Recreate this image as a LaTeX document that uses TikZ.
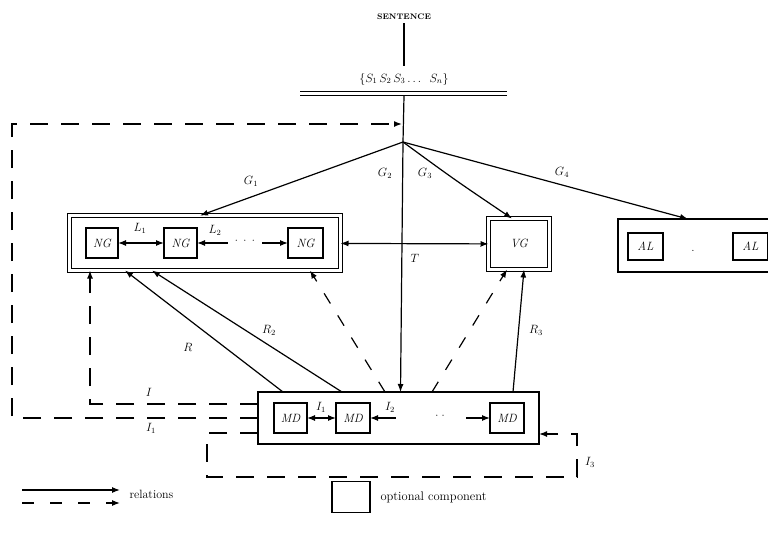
\documentclass[tikz,border=0pt]{standalone}
\usetikzlibrary{arrows.meta}
\begin{document}
\begin{tikzpicture}[x=1pt,y=-1pt,
  >={Latex[length=8pt,width=6pt]},
  ln/.style={line width=1.2pt},
  dsh/.style={line width=1.4pt,dash pattern=on 18pt off 13pt},
  dshs/.style={line width=1.2pt,dash pattern=on 12pt off 14pt},
  bigbox/.style={draw,line width=1pt,double,double distance=3.5pt,inner sep=0pt,outer sep=0pt},
  grp/.style={draw,line width=1.4pt,inner sep=0pt,outer sep=0pt},
  comp/.style={draw,line width=1.5pt,inner sep=0pt,outer sep=0pt,minimum height=30pt,font=\fontsize{12}{13}\selectfont\itshape},
  lab/.style={font=\fontsize{12}{13}\selectfont\itshape,inner sep=1pt}]
\useasboundingbox (0,0) rectangle (768,542);

% top
\node[font=\fontsize{8}{9}\selectfont\bfseries] (sent) at (404,17) {SENTENCE};
\coordinate (v1) at (404,66);
\node[font=\fontsize{12}{13}\selectfont] (set) at (404,79) {$\{S_1\,S_2\,S_3\ldots\;\;S_n\}$};
\coordinate (dl) at (300,93.5);
\coordinate (dr) at (507,93.5);
\coordinate (vtop) at (404,96);
\coordinate (fan) at (403,142);
\coordinate (lp) at (402,124);
\draw[ln] (sent) -- (v1);
\draw[line width=1.1pt,double,double distance=2.5pt] (dl) -- (dr);
\draw[ln] (vtop) -- (fan);

% boxes
\node[bigbox,minimum width=271pt,minimum height=55pt] (lbox) at (205,243) {};
\node[comp,minimum width=32pt] (ng1) at (102,243) {NG};
\node[comp,minimum width=33pt] (ng2) at (180.5,243) {NG};
\node[comp,minimum width=35pt] (ng3) at (305.5,243) {NG};

\node[bigbox,minimum width=61pt,minimum height=51pt] (vbox) at (519,244) {};
\node[font=\fontsize{12}{13}\selectfont\itshape] (vg) at (519,243) {VG};

\node[grp,minimum width=172pt,minimum height=53pt] (albox) at (704,245.5) {};
\node[comp,minimum width=35pt,minimum height=27pt] (al1) at (645.5,246.5) {AL};
\node[comp,minimum width=35pt,minimum height=27pt] (al2) at (750.5,246.5) {AL};
\node[font=\fontsize{12}{13}\selectfont] (aldots) at (693,251) {.};

\node[grp,minimum width=281pt,minimum height=52pt] (mdbox) at (398.5,418) {};
\node[comp,minimum width=33pt] (md1) at (290.5,418) {MD};
\node[comp,minimum width=34pt] (md2) at (353,418) {MD};
\node[comp,minimum width=34pt] (md3) at (507,418) {MD};

% G relations
\draw[ln,->] (fan) -- ([xshift=130.5pt]lbox.north west);
\draw[ln,->] (fan) -- ([xshift=142.5pt]mdbox.north west);
\draw[ln,->] (fan) .. controls (455,180) .. ([xshift=23.5pt]vbox.north west);
\draw[ln,->] (fan) -- ([xshift=70pt]albox.north west);
\node[lab] (g1) at (251,181) {$G_1$};
\node[lab] (g2) at (385,173) {$G_2$};
\node[lab] (g3) at (425,173) {$G_3$};
\node[lab] (g4) at (562,172) {$G_4$};

% NG links
\draw[ln,<->] (ng1) -- (ng2);
\coordinate (n2r) at (228,243);
\coordinate (n3l) at (262,243);
\draw[ln,<-] (ng2) -- (n2r);
\draw[ln,->] (n3l) -- (ng3);
\node[font=\fontsize{11}{12}\selectfont] (ngdots) at (245,241) {$\cdot\;\cdot\;\cdot$};
\node[lab] (l1) at (140,228) {$L_1$};
\node[lab] (l2) at (215,230) {$L_2$};

% T
\draw[ln,<->] (lbox) -- (vbox);
\node[lab] (t) at (415,258) {$T$};

% MD links
\draw[ln,<->] (md1) -- (md2);
\coordinate (m2r) at (396,418);
\coordinate (m3l) at (466,418);
\draw[ln,<-] (md2) -- (m2r);
\draw[ln,->] (m3l) -- (md3);
\node[font=\fontsize{11}{12}\selectfont] (mddots) at (440,416) {$\cdot\;\cdot$};
\node[lab] (i1) at (321,407) {$I_1$};
\node[lab] (i2) at (390,407) {$I_2$};

% R relations
\draw[ln,->] ([xshift=25pt]mdbox.north west) -- ([xshift=55.5pt]lbox.south west);
\draw[ln,->] ([xshift=84pt]mdbox.north west) -- ([xshift=82.5pt]lbox.south west);
\draw[ln,->] ([xshift=255pt]mdbox.north west) -- ([xshift=35.5pt]vbox.south west);
\node[lab] (r1) at (188,347) {$R$};
\node[lab] (r2) at (269,330) {$R_2$};
\node[lab] (r3) at (536,330) {$R_3$};

% dashed relations
\draw[dshs,->] ([xshift=127pt]mdbox.north west) -- ([xshift=240.5pt]lbox.south west);
\draw[dshs,->] ([xshift=174pt]mdbox.north west) -- ([xshift=18.5pt]vbox.south west);

% loops
\coordinate (o1) at (12,418);
\coordinate (o2) at (12,124);
\draw[dsh,->] ([yshift=-26pt]mdbox.north west) -- (o1) -- (o2) -- (lp);
\coordinate (m1) at (90,404);
\draw[dsh,->] ([yshift=-12pt]mdbox.north west) -- (m1) -- ([xshift=20.5pt]lbox.south west);
\coordinate (b1) at (207,433);
\coordinate (b2) at (207,477);
\coordinate (b3) at (577,477);
\coordinate (b4) at (577,434);
\draw[dsh,->] ([yshift=-41pt]mdbox.north west) -- (b1) -- (b2) -- (b3) -- (b4) -- ([yshift=-42pt]mdbox.north east);
\node[lab] (li1) at (149,392) {$I$};
\node[lab] (li2) at (151,428) {$I_1$};
\node[lab] (li3) at (590,462) {$I_3$};

% legend
\coordinate (ls1) at (22,490);
\coordinate (le1) at (120,490);
\coordinate (ls2) at (22,503);
\coordinate (le2) at (120,503);
\draw[ln,->] (ls1) -- (le1);
\draw[line width=1.2pt,dash pattern=on 12pt off 16pt,->] (ls2) -- (le2);
\node[font=\fontsize{12}{13}\selectfont,anchor=west] (rel) at (126,494) {relations};
\node[grp,minimum width=38pt,minimum height=31pt] (legbox) at (351,497) {};
\node[font=\fontsize{12.5}{13}\selectfont,anchor=west] (opt) at (377,497) {optional component};
\end{tikzpicture}
\end{document}
